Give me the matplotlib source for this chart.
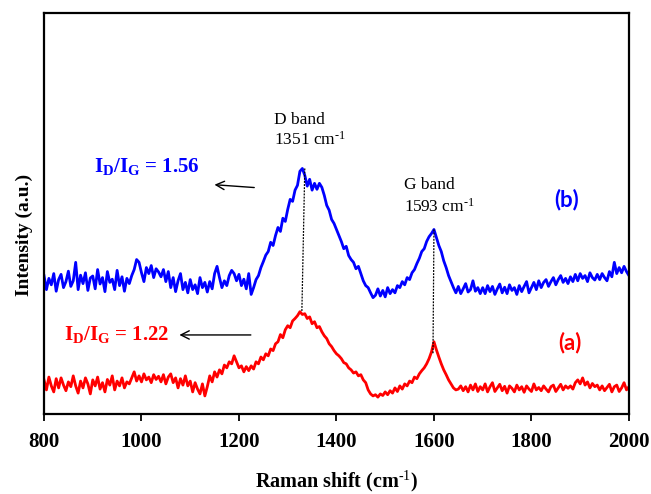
# Raman spectra of samples (a) and (b) with D/G band annotations
import numpy as np
import matplotlib
matplotlib.use("Agg")
import matplotlib.pyplot as plt

plt.rcParams["font.family"] = ["Liberation Serif", "DejaVu Serif"]
plt.rcParams["mathtext.fontset"] = "custom"
plt.rcParams["mathtext.rm"] = "Liberation Serif"
plt.rcParams["mathtext.bf"] = "Liberation Serif:bold"
plt.rcParams["mathtext.it"] = "Liberation Serif:italic"

# Raman shift grid (cm^-1), 5 cm^-1 step
shift = np.arange(800, 2001, 5)

# sample (b), offset upward
intensity_b = [
    34.5, 31.0, 33.8, 32.2, 35.0, 30.6, 33.5, 34.8, 31.5, 33.0, 35.6, 31.8,
    33.2, 37.8, 31.0, 34.6, 32.5, 35.2, 30.8, 33.9, 34.4, 31.2, 36.0, 32.4,
    34.0, 30.5, 35.5, 32.8, 33.6, 31.0, 35.8, 32.0, 34.2, 30.6, 33.8, 32.5,
    34.5, 36.0, 38.5, 37.8, 35.2, 33.0, 36.5, 35.0, 37.0, 34.0, 36.2, 35.4,
    34.2, 36.0, 33.0, 35.5, 31.5, 34.0, 30.5, 33.2, 35.0, 31.0, 32.8, 30.2,
    33.5, 31.0, 32.2, 30.0, 34.0, 31.5, 32.8, 30.4, 33.0, 31.2, 35.0, 36.8,
    34.0, 31.5, 33.2, 32.0, 34.5, 35.8, 35.0, 33.2, 34.8, 32.0, 33.6, 31.2,
    35.0, 29.8, 31.5, 33.5, 34.5, 36.5, 38.0, 39.6, 40.5, 42.8, 42.0, 44.5,
    46.5, 45.5, 48.8, 48.0, 51.0, 53.5, 53.0, 55.8, 57.0, 60.5, 61.2, 59.5,
    56.8, 58.5, 55.8, 57.5, 56.0, 57.5, 56.5, 54.5, 52.0, 50.8, 48.5, 47.5,
    46.0, 44.5, 43.0, 41.2, 41.8, 39.5, 38.5, 37.8, 36.2, 36.8, 35.0, 33.2,
    32.0, 31.5, 30.2, 29.0, 29.6, 31.2, 29.4, 30.8, 29.2, 31.5, 30.0, 31.0,
    30.2, 32.0, 31.5, 33.0, 32.2, 34.0, 33.5, 35.2, 36.0, 37.5, 38.8, 40.5,
    41.2, 43.0, 44.2, 45.0, 46.0, 44.0, 42.0, 40.5, 38.2, 36.5, 34.5, 33.0,
    31.5, 30.2, 31.8, 30.0, 31.2, 32.5, 30.4, 31.0, 33.2, 30.6, 31.5, 30.0,
    31.5, 30.0, 32.0, 30.5, 31.8, 29.8, 31.2, 32.4, 30.2, 31.6, 30.0, 32.2,
    30.8, 31.5, 29.8, 32.0, 30.5, 31.8, 33.0, 30.2, 31.5, 32.8, 31.0, 33.2,
    31.5, 32.8, 33.5, 31.8, 33.0, 34.0, 32.2, 33.5, 34.5, 32.8, 33.8, 32.5,
    34.2, 33.0, 34.8, 33.2, 35.0, 33.8, 34.5, 33.0, 35.2, 34.0, 33.4, 34.8,
    33.5, 35.0, 34.0, 33.2, 35.5, 34.2, 37.8, 35.0, 36.5, 35.2, 36.8, 35.5,
    34.5,
]

# sample (a)
intensity_a = [
    8.5, 6.0, 9.2, 7.0, 5.5, 8.8, 6.5, 9.0, 7.2, 5.8, 8.0, 6.8,
    9.5, 7.0, 5.2, 8.2, 6.5, 9.0, 7.5, 5.0, 8.5, 7.0, 9.2, 6.2,
    7.8, 5.5, 8.6, 7.2, 9.5, 6.0, 8.2, 7.0, 9.0, 6.5, 8.0, 7.5,
    9.0, 10.5, 8.2, 9.5, 8.0, 10.0, 8.5, 9.2, 7.8, 9.8, 8.6, 9.4,
    8.0, 9.8, 7.5, 9.2, 10.0, 7.8, 9.0, 6.5, 8.8, 7.2, 9.5, 7.0,
    8.2, 5.5, 7.8, 6.2, 5.0, 7.5, 4.5, 6.8, 9.5, 8.0, 10.5, 9.2,
    11.0, 10.0, 12.2, 11.5, 13.0, 12.5, 14.5, 13.0, 11.5, 12.0, 10.5, 11.8,
    10.8, 12.0, 11.2, 13.0, 12.5, 14.2, 13.5, 15.0, 14.5, 16.2, 15.8, 17.5,
    18.0, 19.8, 19.0, 21.0, 22.0, 21.5, 23.2, 23.8, 24.5, 25.5, 24.8, 25.0,
    23.8, 24.2, 22.5, 23.0, 21.5, 21.8, 20.5, 19.5, 18.8, 17.5, 16.8, 15.8,
    15.0, 14.5, 13.8, 12.8, 12.5, 11.5, 11.0, 10.2, 10.5, 9.5, 9.8, 8.5,
    7.8, 6.0, 5.0, 4.5, 4.8, 4.2, 5.0, 4.6, 5.5, 4.8, 5.8, 5.2,
    6.5, 5.6, 7.0, 6.2, 7.5, 7.0, 8.2, 7.8, 9.2, 8.8, 10.0, 10.8,
    11.5, 12.5, 13.8, 15.5, 18.0, 16.0, 14.2, 12.5, 11.0, 9.8, 8.5, 7.5,
    6.5, 6.0, 6.2, 7.0, 5.8, 6.8, 5.5, 7.2, 6.0, 7.5, 5.6, 6.8,
    6.0, 7.5, 5.5, 6.8, 7.8, 5.6, 6.5, 7.4, 5.8, 6.9, 5.2, 7.0,
    6.4, 5.5, 7.2, 6.0, 6.8, 5.4, 7.0, 6.2, 5.6, 7.5, 6.0, 6.6,
    5.8, 7.0, 6.2, 5.5, 6.8, 7.2, 5.6, 6.5, 7.4, 6.0, 7.0, 6.4,
    7.0, 6.2, 7.8, 8.5, 7.5, 9.0, 7.2, 8.0, 6.5, 7.6, 6.8, 7.2,
    6.0, 7.0, 5.8, 6.6, 7.4, 5.5, 6.8, 7.2, 5.6, 6.5, 7.8, 6.0,
    6.8,
]

# peak guide lines (top point on (b), bottom point on (a))
d_line_x = [1335, 1329]
d_line_y = [61.2, 25.5]
g_line_x = [1600, 1598]
g_line_y = [46.0, 15.0]

ratio_b = "1.56"
ratio_a = "1.22"


def main():
    fig = plt.figure(figsize=(6.51, 4.94), dpi=100)
    ax = fig.add_axes([0.0676, 0.162, 0.8985, 0.812])

    ax.plot(shift, intensity_b, color="#0000ff", lw=2.0)
    ax.plot(shift, intensity_a, color="#ff0000", lw=2.0)

    ax.plot(d_line_x, d_line_y, color="black", lw=0.9, ls=(0, (1.5, 1)))
    ax.plot(g_line_x, g_line_y, color="black", lw=0.9, ls=(0, (1.5, 1)))

    ax.set_xlim(800, 2000)
    ax.set_ylim(0, 100)
    ax.set_xticks(range(800, 2001, 200))
    ax.set_yticks([])
    ax.tick_params(axis="x", direction="out", length=5, width=1.3, pad=8,
                   labelsize=15)
    for lab in ax.get_xticklabels():
        lab.set_fontweight("bold")
    for sp in ax.spines.values():
        sp.set_linewidth(1.6)

    ax.set_xlabel(r"Raman shift (cm$^{\text{-1}}$)", fontsize=14.5,
                  fontweight="bold", labelpad=12)
    fig.text(24 / 651, 1 - 235 / 494, "Intensity (a.u.)", rotation=90,
             fontsize=14, fontweight="bold", ha="center", va="center")

    # band labels
    ax.text(1271, 73.3, "D band", fontsize=12.5, va="center")
    ax.text(1271, 68.3, r"1351 cm$^{\text{-1}}$", fontsize=12.5, va="center")
    ax.text(1539, 57.1, "G band", fontsize=12.5, va="center")
    ax.text(1539, 51.7, r"1593 cm$^{\text{-1}}$", fontsize=12.5, va="center")

    # ID/IG ratios
    ax.text(902, 61.6, r"$\mathbf{I_D/I_G}$ = " + ratio_b, color="#0000ff",
            fontsize=15, fontweight="bold", va="center")
    ax.text(842, 19.7, r"$\mathbf{I_D/I_G}$ = " + ratio_a, color="#ff0000",
            fontsize=15, fontweight="bold", va="center")
    arrow = dict(arrowstyle="->,head_length=0.6,head_width=0.3", color="black",
                 lw=1.0)
    ax.annotate("", xy=(1144, 57.2), xytext=(1237, 56.4), arrowprops=arrow)
    ax.annotate("", xy=(1072, 19.7), xytext=(1230, 19.7), arrowprops=arrow)

    # sample labels
    ax.text(1872, 53.4, "(b)", color="#0000ff", fontsize=16, fontweight="bold",
            family=["Lato", "DejaVu Sans"], ha="center", va="center")
    ax.text(1878, 17.7, "(a)", color="#ff0000", fontsize=16, fontweight="bold",
            family=["Lato", "DejaVu Sans"], ha="center", va="center")

    fig.savefig("out.png", dpi=100)
    plt.close(fig)


if __name__ == "__main__":
    main()
